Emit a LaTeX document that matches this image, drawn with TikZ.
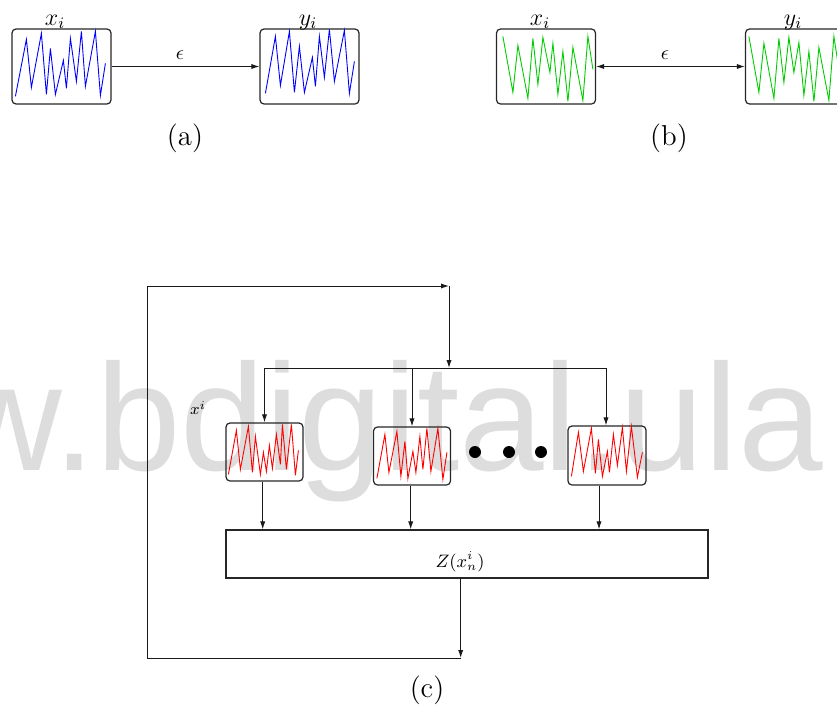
\documentclass[tikz,border=0pt]{standalone}
\usepackage{fontspec}
\newfontfamily\wmfont{Liberation Sans}
\usetikzlibrary{arrows.meta,calc}
\definecolor{wmgray}{RGB}{221,221,221}
\definecolor{wgreen}{RGB}{0,205,0}
\tikzset{
  wbox/.style={draw=black!85, rounded corners=2pt, line width=0.6pt, inner sep=0pt,
               minimum width=49.5pt, minimum height=37.5pt},
  cbox/.style={draw=black!85, rounded corners=2pt, line width=0.6pt, inner sep=0pt,
               minimum width=38.5pt, minimum height=29pt},
  zbox/.style={draw=black!85, line width=0.6pt, inner sep=0pt,
               minimum width=241pt, minimum height=24pt},
  conn/.style={line width=0.5pt, draw=black!90},
  arr/.style={conn, -{Latex[length=4pt,width=2.6pt]}},
  darr/.style={conn, {Latex[length=4pt,width=2.6pt]}-{Latex[length=4pt,width=2.6pt]}},
  wave/.style={line width=0.45pt, line join=miter},
  dotnode/.style={circle, fill=black, inner sep=0pt, minimum size=6pt},
  lbl/.style={inner sep=0pt}
}
\begin{document}
\begin{tikzpicture}[x=0.5pt,y=-0.5pt]
\useasboundingbox (0,0) rectangle (837,707);
% watermark
\node[anchor=base west, inner sep=0pt, text=wmgray,
      font=\wmfont\fontsize{76}{76}\selectfont] (wm) at (-48,470) {w.bdigital.ula};

% ---------- (a) ----------
\node[wbox] (a1) at (61.5,66.5) {};
\node[wbox] (a2) at (309.5,66.5) {};
\draw[wave, blue, shift={(a1.north west)}]
  (4,68)--(15,11)--(20,59)--(30,5)--(35,66)--(39,20)--(44,66)--(52,32)--(55,60)--(59,10)--(65,53)--(70,3)--(74,58)--(84,3)--(89,67)--(94,35);
\draw[wave, blue, shift={(a2.north west)}]
  (6,65)--(16,8)--(21,57)--(30,3)--(35,64)--(40,18)--(45,64)--(53,29)--(56,58)--(60,8)--(65,49)--(70,1)--(75,53)--(85,2)--(90,65)--(95,33);
\node[lbl, anchor=base, font=\large] (xa) at (55,25) {$x_i$};
\node[lbl, anchor=base, font=\large] (ya) at (308,25) {$y_i$};
\draw[arr] (a1.east) -- (a2.west);
\node[lbl, anchor=base, font=\normalsize] (ea) at (180,59) {$\epsilon$};
\node[lbl, font=\Large] (capa) at (185,138) {(a)};

% ---------- (b) ----------
\node[wbox] (b1) at (546,66.5) {};
\node[wbox] (b2) at (795,66.5) {};
\draw[wave, wgreen, shift={(b1.north west)}]
  (7,8)--(17,64)--(22,17)--(32,70)--(37,10)--(42,56)--(47,9)--(54,44)--(57,15)--(62,66)--(67,23)--(72,73)--(77,19)--(87,72)--(92,8)--(97,41);
\draw[wave, wgreen, shift={(b2.north west)}]
  (4,8)--(14,64)--(19,15)--(29,70)--(34,10)--(39,54)--(44,9)--(49,44)--(54,14)--(59,67)--(64,23)--(69,73)--(74,19)--(84,72)--(89,8)--(94,41);
\node[lbl, anchor=base, font=\large] (xb) at (540,25) {$x_i$};
\node[lbl, anchor=base, font=\large] (yb) at (793,25) {$y_i$};
\draw[darr] (b1.east) -- (b2.west);
\node[lbl, anchor=base, font=\normalsize] (eb) at (665,59) {$\epsilon$};
\node[lbl, font=\Large] (capb) at (669,138) {(b)};

% ---------- (c) ----------
\node[cbox] (c1) at (264.5,452) {};
\node[cbox] (c2) at (412,456) {};
\node[cbox, minimum width=39pt, minimum height=29.5pt] (c3) at (607,455.5) {};
\draw[wave, red, shift={(c1.north west)}]
  (3,52)--(11,8)--(15,47)--(23,4)--(27,50)--(30,14)--(35,52)--(38,30)--(41,49)--(44,23)--(47,46)--(51,12)--(55,42)--(57,2)--(61,47)--(66,2)--(70,53)--(73,28);
\draw[wave, red, shift={(c2.north west)}]
  (4,52)--(12,8)--(16,46)--(24,5)--(28,50)--(32,15)--(35,52)--(40,25)--(43,46)--(47,10)--(50,43)--(54,2)--(58,45)--(65,2)--(70,53)--(74,26);
\draw[wave, red, shift={(c3.north west)}]
  (4,51)--(11,7)--(16,46)--(24,3)--(28,48)--(31,14)--(35,51)--(40,26)--(42,47)--(46,9)--(50,40)--(55,2)--(59,46)--(64,1)--(70,52)--(75,27);
\node[dotnode] (d1) at (475,452) {};
\node[dotnode] (d2) at (509,452) {};
\node[dotnode] (d3) at (541,452) {};
\node[lbl, font=\footnotesize] (xi) at (198,408) {$x^i$};

\node[zbox] (Z) at (467,554) {};
\node[lbl, font=\small] (zl) at (460,562) {$Z(x_n^i)$};

\coordinate (tl) at (147,286);
\coordinate (tr) at (449,286);
\coordinate (bus) at (449,368);
\coordinate (busL) at (264.5,368);
\coordinate (busR) at (606,368);
\coordinate (zout) at (460.7,578);
\coordinate (br) at (460.7,658);
\coordinate (bl) at (147,658);
\coordinate (o1) at ($(c1.south)+(-1.8,0)$);
\coordinate (o2) at ($(c2.south)+(-1.3,0)$);
\coordinate (o3) at ($(c3.south)+(-8,0)$);

\draw[conn] (busL) -- (busR);
\draw[arr] (busL) -- (c1.north);
\draw[arr] (c2.north |- bus) -- (c2.north);
\draw[arr] (busR) -- (busR |- c3.north);
\draw[arr] (o1) -- (o1 |- Z.north);
\draw[arr] (o2) -- (o2 |- Z.north);
\draw[arr] (o3) -- (o3 |- Z.north);
\draw[arr] (zout) -- (br);
\draw[arr] (br) -- (bl) -- (tl) -- (tr);
\draw[arr] (tr) -- (bus);
\node[lbl, font=\Large] (capc) at (427,690) {(c)};
\end{tikzpicture}
\end{document}
